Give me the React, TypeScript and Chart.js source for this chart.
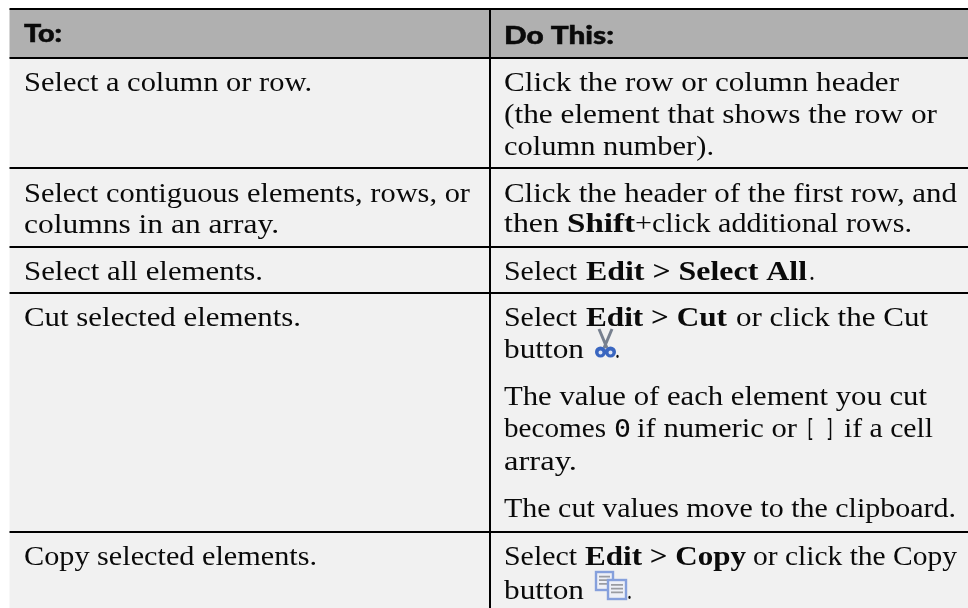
import React, { useEffect, useRef } from "react";
import { Chart, registerables } from "chart.js";

Chart.register(...registerables);

type Run = { t: string; x: number; end: number; y: number; f?: "b" | "m" | "h" };

const headers: Run[] = [
  { t: "To:", x: 24, end: 62, y: 42, f: "h" },
  { t: "Do This:", x: 504, end: 614, y: 44, f: "h" },
];

const firstColumn: Run[] = [
  { t: "Select a column or row.", x: 24, end: 312, y: 91 },
  { t: "Select contiguous elements, rows, or", x: 24, end: 470, y: 202 },
  { t: "columns in an array.", x: 24, end: 279, y: 233 },
  { t: "Select all elements.", x: 24, end: 263, y: 280 },
  { t: "Cut selected elements.", x: 24, end: 301, y: 326 },
  { t: "Copy selected elements.", x: 24, end: 317, y: 565 },
];

const secondColumn: Run[] = [
  { t: "Click the row or column header", x: 504, end: 899, y: 91 },
  { t: "(the element that shows the row or", x: 504, end: 937, y: 123 },
  { t: "column number).", x: 504, end: 714, y: 155 },
  { t: "Click the header of the first row, and", x: 504, end: 957, y: 202 },
  { t: "then", x: 504, end: 559, y: 232 },
  { t: "Shift", x: 567, end: 635, y: 232, f: "b" },
  { t: "+click additional rows.", x: 635, end: 912, y: 232 },
  { t: "Select", x: 504, end: 577, y: 280 },
  { t: "Edit > Select All", x: 586, end: 807, y: 280, f: "b" },
  { t: ".", x: 809, end: 815, y: 280 },
  { t: "Select", x: 504, end: 577, y: 326 },
  { t: "Edit > Cut", x: 586, end: 727, y: 326, f: "b" },
  { t: "or click the Cut", x: 736, end: 928, y: 326 },
  { t: "button", x: 504, end: 584, y: 358 },
  { t: ".", x: 615, end: 620, y: 358 },
  { t: "The value of each element you cut", x: 504, end: 927, y: 405 },
  { t: "becomes", x: 504, end: 606, y: 437 },
  { t: "0", x: 614, end: 631, y: 437, f: "m" },
  { t: "if numeric or", x: 637, end: 797, y: 437 },
  { t: "[ ]", x: 805, end: 835, y: 437, f: "m" },
  { t: "if a cell", x: 844, end: 933, y: 437 },
  { t: "array.", x: 504, end: 577, y: 470 },
  { t: "The cut values move to the clipboard.", x: 504, end: 956, y: 517 },
  { t: "Select", x: 504, end: 577, y: 565 },
  { t: "Edit > Copy", x: 585, end: 746, y: 565, f: "b" },
  { t: "or click the Copy", x: 753, end: 957, y: 565 },
  { t: "button", x: 504, end: 584, y: 599 },
  { t: ".", x: 627, end: 632, y: 599 },
];

const rowRules = [9, 58, 168, 247, 293, 532];
const tableLeft = 9.5;
const dividerX = 490;

const fonts = {
  serif: '28px "Liberation Serif"',
  b: 'bold 28px "Liberation Serif"',
  m: '25px "DejaVu Sans Mono"',
  h: '900 25px Lato',
};

function drawRun(ctx: CanvasRenderingContext2D, r: Run) {
  ctx.font = r.f ? fonts[r.f] : fonts.serif;
  ctx.textBaseline = "alphabetic";
  ctx.textAlign = "left";
  const w = ctx.measureText(r.t).width;
  const target = r.end - r.x;
  ctx.save();
  ctx.translate(r.x, r.y);
  ctx.scale(target / w, 1);
  ctx.fillStyle = "#0a0a0a";
  ctx.fillText(r.t, 0, 0);
  if (r.f === "h") {
    ctx.strokeStyle = "#0a0a0a";
    ctx.lineWidth = 0.5;
    ctx.strokeText(r.t, 0, 0);
  }
  ctx.restore();
}

function drawScissors(ctx: CanvasRenderingContext2D, x: number, y: number) {
  ctx.save();
  ctx.translate(x, y);
  ctx.filter = "blur(0.7px)";
  ctx.strokeStyle = "#77808f";
  ctx.lineWidth = 3;
  ctx.beginPath();
  ctx.moveTo(4, 0);
  ctx.lineTo(12, 19);
  ctx.moveTo(17, 0);
  ctx.lineTo(9, 19);
  ctx.stroke();
  ctx.fillStyle = "#3a66c0";
  ctx.beginPath();
  ctx.arc(5.5, 23, 5.5, 0, Math.PI * 2);
  ctx.moveTo(21, 23);
  ctx.arc(15.5, 23, 5.5, 0, Math.PI * 2);
  ctx.fill();
  ctx.fillStyle = "#dfe6f5";
  ctx.beginPath();
  ctx.arc(5.5, 23.5, 2, 0, Math.PI * 2);
  ctx.moveTo(17.5, 23.5);
  ctx.arc(15.5, 23.5, 2, 0, Math.PI * 2);
  ctx.fill();
  ctx.restore();
}

function drawCopy(ctx: CanvasRenderingContext2D, x: number, y: number) {
  ctx.save();
  ctx.translate(x, y);
  ctx.filter = "blur(0.6px)";
  const page = (px: number, py: number, w: number, h: number) => {
    ctx.fillStyle = "#eef0f7";
    ctx.strokeStyle = "#86a0dc";
    ctx.lineWidth = 2.4;
    ctx.fillRect(px, py, w, h);
    ctx.strokeRect(px, py, w, h);
    ctx.strokeStyle = "#9a9ca2";
    ctx.lineWidth = 1.8;
    ctx.beginPath();
    for (let i = 1; i <= 3; i++) {
      ctx.moveTo(px + 3, py + 1 + (i * h) / 5);
      ctx.lineTo(px + w - 3, py + 1 + (i * h) / 5);
    }
    ctx.stroke();
  };
  page(1, 1, 17, 18);
  page(13, 9, 18, 19);
  ctx.restore();
}

const tablePlugin = {
  id: "commandTable",
  beforeDraw(chart: any) {
    const { ctx } = chart;
    const sx = chart.scales.x;
    const sy = chart.scales.y;
    const left = sx.getPixelForValue(tableLeft);
    const right = sx.getPixelForValue(968);
    const py = (v: number) => sy.getPixelForValue(v);

    ctx.save();
    ctx.fillStyle = "#ffffff";
    ctx.fillRect(0, 0, 968, 608);
    ctx.fillStyle = "#f1f1f1";
    ctx.fillRect(left, py(rowRules[1]), right - left, py(608) - py(rowRules[1]));
    ctx.fillStyle = "#b0b0b0";
    ctx.fillRect(left, py(rowRules[0]), right - left, py(rowRules[1]) - py(rowRules[0]));

    ctx.fillStyle = "#000";
    rowRules.forEach((r) => ctx.fillRect(left, py(r) - 1, right - left, 2));
    ctx.fillRect(sx.getPixelForValue(dividerX) - 1, py(rowRules[0]), 2, py(608) - py(rowRules[0]));

    [...headers, ...firstColumn, ...secondColumn].forEach((r) => drawRun(ctx, r));
    drawScissors(ctx, 595, 329);
    drawCopy(ctx, 595, 571);
    ctx.restore();
  },
};

export default function App() {
  const ref = useRef<HTMLCanvasElement>(null);
  useEffect(() => {
    document.body.style.margin = "0";
    const chart = new Chart(ref.current!, {
      type: "bar",
      data: { labels: [], datasets: [] },
      options: {
        animation: false,
        responsive: false,
        events: [],
        layout: { padding: 0 },
        plugins: { legend: { display: false }, tooltip: { enabled: false }, title: { display: false } },
        scales: {
          x: { type: "linear", min: 0, max: 968, offset: false, display: false },
          y: { type: "linear", min: 0, max: 608, reverse: true, display: false },
        },
      },
      plugins: [tablePlugin],
    });
    return () => chart.destroy();
  }, []);
  return <canvas ref={ref} width={968} height={608} style={{ display: "block" }} />;
}
